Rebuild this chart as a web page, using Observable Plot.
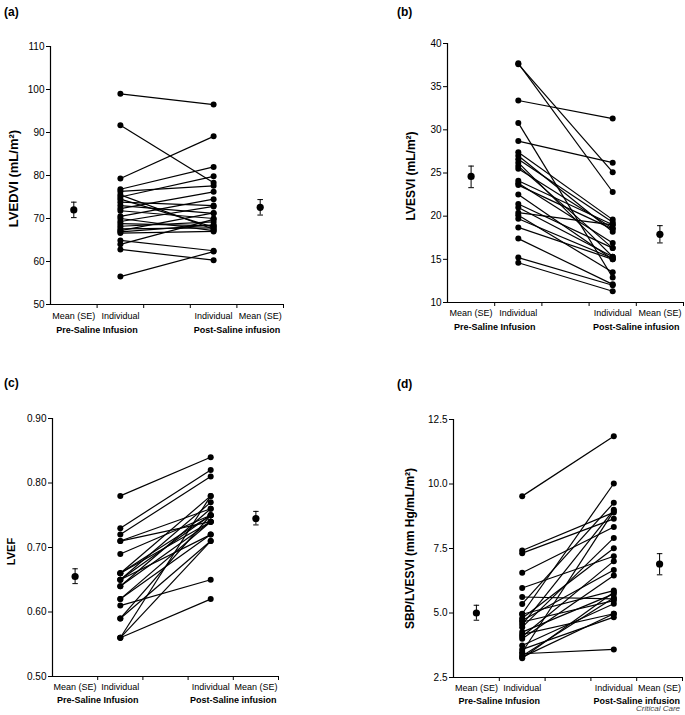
<!DOCTYPE html>
<html>
<head>
<meta charset="utf-8">
<script src="https://cdn.jsdelivr.net/npm/d3@7"></script>
<script src="https://cdn.jsdelivr.net/npm/@observablehq/plot@0.6"></script>
<style>
  body { margin: 0; background: #fff; }
  #fig { position: relative; width: 685px; height: 715px; background: #fff; font-family: "Liberation Sans", Arial, sans-serif; overflow: hidden; }
  .panel { position: absolute; }
  .plabel { position: absolute; font-weight: bold; font-size: 12px; color: #000; white-space: nowrap; }
  .credit { position: absolute; font-style: italic; font-size: 8px; color: #444; white-space: nowrap; line-height: 9px; }
</style>
</head>
<body>
<div id="fig"></div>
<script>
// ---------- data ----------
const xCategories = ["Mean (SE)", "Individual", "", "Individual", "Mean (SE)"];
const groupLabels = ["Pre-Saline Infusion", "Post-Saline infusion"];

// (a) LVEDVI
const aPre  = [99.0, 91.7, 79.3, 76.8, 76.3, 75.5, 75.0, 74.5, 73.8, 73.0, 72.3, 71.8, 70.5, 70.0, 69.3, 68.8, 68.2, 67.6, 67.2, 66.9, 66.6, 64.9, 64.0, 62.8, 56.5];
const aPost = [96.5, 78.3, 89.1, 82.0, 77.6, 67.5, 79.8, 68.0, 73.0, 71.2, 76.2, 70.0, 74.5, 67.2, 72.8, 68.3, 69.2, 67.8, 71.3, 68.5, 67.0, 62.5, 69.8, 60.3, 62.3];
const aMean = [72.0, 72.6];
const aLo   = [70.2, 70.8];
const aHi   = [73.8, 74.4];
const aTicks = [50, 60, 70, 80, 90, 100, 110];

// (b) LVESVI
const bPre  = [37.7, 37.6, 33.4, 30.8, 28.7, 27.4, 27.0, 26.6, 26.2, 25.8, 25.5, 24.1, 23.8, 23.6, 22.5, 21.4, 21.0, 20.4, 20.1, 19.7, 18.7, 17.4, 15.2, 14.6];
const bPost = [22.8, 25.1, 31.3, 12.9, 26.2, 19.6, 18.2, 19.3, 15.3, 16.3, 18.6, 19.0, 16.9, 18.5, 15.0, 16.3, 15.3, 19.0, 13.5, 15.1, 15.0, 12.1, 12.0, 11.3];
const bMean = [24.6, 17.9];
const bLo   = [23.3, 16.9];
const bHi   = [25.8, 18.9];
const bTicks = [10, 15, 20, 25, 30, 35, 40];

// (c) LVEF
const cPre  = [0.78, 0.73, 0.72, 0.71, 0.71, 0.69, 0.66, 0.66, 0.66, 0.65, 0.65, 0.64, 0.64, 0.62, 0.61, 0.59, 0.59, 0.56, 0.56, 0.56, 0.65, 0.62];
const cPost = [0.84, 0.82, 0.81, 0.74, 0.76, 0.75, 0.78, 0.74, 0.75, 0.77, 0.72, 0.74, 0.76, 0.72, 0.65, 0.71, 0.75, 0.62, 0.78, 0.71, 0.75, 0.74];
const cMean = [0.655, 0.745];
const cLo   = [0.644, 0.735];
const cHi   = [0.667, 0.756];
const cTicks = [0.50, 0.60, 0.70, 0.80, 0.90];

// (d) SBP/LVESVI
const dPre  = [9.53, 7.42, 7.32, 6.56, 5.97, 5.62, 5.35, 4.97, 4.95, 4.80, 4.71, 4.65, 4.55, 4.45, 4.26, 4.17, 4.09, 4.00, 3.74, 3.59, 3.48, 3.42, 3.33, 3.29, 3.25];
const dPost = [11.85, 8.90, 8.65, 8.33, 7.20, 5.55, 9.27, 10.02, 5.87, 7.51, 6.67, 5.48, 9.00, 7.91, 5.74, 4.97, 7.01, 6.45, 5.36, 4.84, 8.95, 3.59, 5.59, 4.97, 5.80];
const dMean = [5.0, 6.9];
const dLo   = [4.72, 6.48];
const dHi   = [5.30, 7.30];
const dTicks = [2.5, 5.0, 7.5, 10.0, 12.5];

// ---------- drawing ----------
const FONT = "'Liberation Sans', Arial, Helvetica, sans-serif";

function panel(cfg) {
  const pairs = cfg.pre.map((v, i) => ({pre: v, post: cfg.post[i]}));
  const means = cfg.mean.map((m, i) => ({x: i === 0 ? 0.5 : 4.5, mean: m, lo: cfg.lo[i], hi: cfg.hi[i]}));
  const cats = xCategories.map((c, i) => ({c, x: i + 0.5})).filter(d => d.c !== "");
  const groups = groupLabels.map((g, i) => ({g, x: i === 0 ? 1 : 4}));
  const y0 = cfg.ticks[0];
  return Plot.plot({
    width: cfg.width, height: cfg.height,
    marginLeft: cfg.ml, marginRight: cfg.mr, marginTop: cfg.mt, marginBottom: cfg.mb,
    x: {domain: [0, 5]},
    y: {domain: [cfg.ticks[0], cfg.ticks[cfg.ticks.length - 1]]},
    style: {fontFamily: FONT, fontSize: "10px", color: "#000", background: "#fff", overflow: "visible"},
    marks: [
      Plot.axisY({ticks: cfg.ticks, tickSize: 4, tickPadding: 2, tickFormat: cfg.fmt, label: null, fontSize: 10, strokeWidth: 1}),
      Plot.axisX({ticks: [1, 2, 3, 4, 5], tickSize: 4, tickFormat: () => "", label: null, strokeWidth: 1}),
      Plot.ruleX([0], {stroke: "#000", strokeWidth: 1.2}),
      Plot.ruleY([y0], {stroke: "#000", strokeWidth: 1.2}),
      Plot.text(cats, {x: "x", text: "c", frameAnchor: "bottom", dy: cfg.dy1, fontSize: 9}),
      Plot.text(groups, {x: "x", text: "g", frameAnchor: "bottom", dy: cfg.dy2, fontSize: 9, fontWeight: "bold"}),
      Plot.text([cfg.title], {frameAnchor: "left", textAnchor: "middle", lineAnchor: "middle", rotate: -90, dx: cfg.tdx, dy: cfg.tdy || 0, fontSize: cfg.tfs, fontWeight: "bold"}),
      Plot.link(pairs, {x1: () => 1.5, y1: "pre", x2: () => 3.5, y2: "post", stroke: "#000", strokeWidth: 1.2}),
      Plot.dot(pairs, {x: () => 1.5, y: "pre", r: 3, fill: "#000"}),
      Plot.dot(pairs, {x: () => 3.5, y: "post", r: 3, fill: "#000"}),
      Plot.ruleX(means, {x: "x", y1: "lo", y2: "hi", stroke: "#000", strokeWidth: 1}),
      Plot.link(means, {x1: d => d.x - 0.06, x2: d => d.x + 0.06, y1: "lo", y2: "lo", stroke: "#000", strokeWidth: 1}),
      Plot.link(means, {x1: d => d.x - 0.06, x2: d => d.x + 0.06, y1: "hi", y2: "hi", stroke: "#000", strokeWidth: 1}),
      Plot.dot(means, {x: "x", y: "mean", r: 3.6, fill: "#000"})
    ]
  });
}

const fig = document.getElementById("fig");
function place(node, left, top) {
  const d = document.createElement("div");
  d.className = "panel";
  d.style.left = left + "px";
  d.style.top = top + "px";
  d.appendChild(node);
  fig.appendChild(d);
}
function label(text, left, top, cls) {
  const d = document.createElement("div");
  d.className = cls;
  d.style.left = left + "px";
  d.style.top = top + "px";
  d.textContent = text;
  fig.appendChild(d);
}

place(panel({pre: aPre, post: aPost, mean: aMean, lo: aLo, hi: aHi, ticks: aTicks, fmt: d3.format("d"),
  title: "LVEDVI (mL/m²)", width: 340, height: 345, ml: 50, mr: 57, mt: 46, mb: 41, dy1: 14, dy2: 28, tdx: -37, tdy: 3, tfs: 13}), 0, 0);
place(panel({pre: bPre, post: bPost, mean: bMean, lo: bLo, hi: bHi, ticks: bTicks, fmt: d3.format("d"),
  title: "LVESVI (mL/m²)", width: 345, height: 345, ml: 107, mr: 2, mt: 43, mb: 43, dy1: 13, dy2: 27, tdx: -36, tdy: 3, tfs: 12}), 340, 0);
place(panel({pre: cPre, post: cPost, mean: cMean, lo: cLo, hi: cHi, ticks: cTicks, fmt: d3.format(".2f"),
  title: "LVEF", width: 340, height: 365, ml: 52, mr: 62, mt: 68, mb: 39, dy1: 13, dy2: 26, tdx: -41, tdy: 4, tfs: 11}), 0, 350);
place(panel({pre: dPre, post: dPost, mean: dMean, lo: dLo, hi: dHi, ticks: dTicks, fmt: d3.format(".1f"),
  title: "SBP/LVESVI (mm Hg/mL/m²)", width: 345, height: 365, ml: 113, mr: 3, mt: 69, mb: 38, dy1: 13, dy2: 26, tdx: -43, tdy: 0, tfs: 12}), 340, 350);

label("(a)", 4, 5, "plabel");
label("(b)", 397, 5, "plabel");
label("(c)", 4, 376, "plabel");
label("(d)", 397, 377, "plabel");
label("Critical Care", 636, 704, "credit");
</script>
</body>
</html>
